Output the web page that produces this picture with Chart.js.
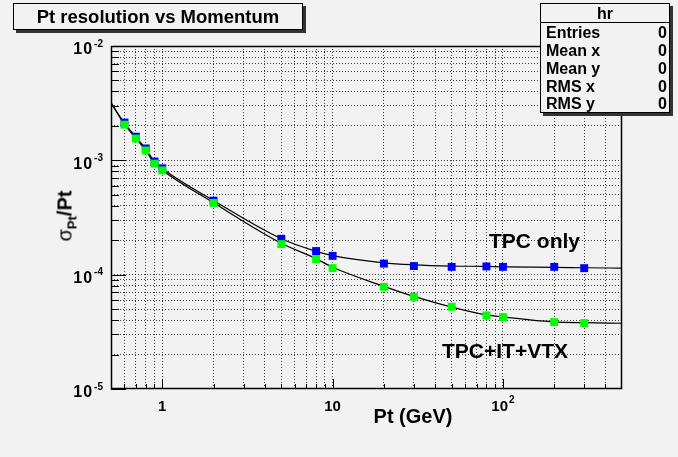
<!DOCTYPE html>
<html><head><meta charset="utf-8">
<script src="https://cdn.jsdelivr.net/npm/chart.js@4.4.0/dist/chart.umd.min.js"></script>
<style>
html,body{margin:0;padding:0;background:#f2f2f2;}
#wrap{position:relative;width:678px;height:457px;background:#f2f2f2;overflow:hidden;font-family:'Liberation Sans',Arial,Helvetica,sans-serif;font-weight:bold;color:#000;}
canvas{position:absolute;left:0;top:0;}
.abs{position:absolute;white-space:nowrap;}
#title{left:13px;top:3px;width:288px;height:25px;border:1px solid #000;background:#f2f2f2;box-shadow:3px 3px 0 #333;font-size:18.5px;text-align:center;line-height:26px;}
#stats{left:540px;top:3px;width:128px;height:108px;border:1px solid #000;background:#f2f2f2;box-shadow:3px 3px 0 #333;font-size:16px;}
#stats .hdr{position:absolute;left:0;top:0;width:128px;height:18px;border-bottom:1px solid #000;text-align:center;line-height:20px;}
#stats .row{position:absolute;left:5px;width:121px;height:18px;line-height:18px;}
#stats .row span{position:absolute;right:0;top:0;}
#ytitle{left:65px;top:216px;transform:translate(-50%,-50%) rotate(-90deg);font-size:20px;}
#ytitle .sig{font-weight:normal;}
#ytitle sub{font-size:13px;vertical-align:-5px;line-height:0;}
#xtitle{left:413px;top:416px;transform:translate(-50%,-50%);font-size:20px;}
.note{font-size:21px;}
</style>
</head><body>
<div id="wrap">
<canvas id="c" width="678" height="457"></canvas>
<div class="abs" id="title">Pt resolution vs Momentum</div>
<div class="abs" id="stats">
  <div class="hdr">hr</div>
  <div class="row" style="top:20px">Entries<span>0</span></div>
  <div class="row" style="top:38px">Mean x<span>0</span></div>
  <div class="row" style="top:56px">Mean y<span>0</span></div>
  <div class="row" style="top:74px">RMS x<span>0</span></div>
  <div class="row" style="top:91px">RMS y<span>0</span></div>
</div>
<div class="abs" id="ytitle"><span class="sig">σ</span><sub>Pt</sub>/Pt</div>
<div class="abs" id="xtitle">Pt (GeV)</div>
<div class="abs note" style="left:489px;top:229px;">TPC only</div>
<div class="abs note" style="left:442px;top:339px;">TPC+IT+VTX</div>
</div>
<script>
// ---- data ----
const pointMomenta = [0.6, 0.7, 0.8, 0.9, 1, 2, 5, 8, 10, 20, 30, 50, 80, 100, 200, 300];
const tpcOnlyRes   = [2.14e-3, 1.61e-3, 1.27e-3, 9.76e-4, 8.51e-4, 4.44e-4, 2.06e-4, 1.61e-4, 1.46e-4, 1.25e-4, 1.19e-4, 1.17e-4, 1.18e-4, 1.17e-4, 1.17e-4, 1.14e-4];
const tpcItVtxRes  = [2.05e-3, 1.55e-3, 1.22e-3, 9.36e-4, 8.17e-4, 4.24e-4, 1.85e-4, 1.37e-4, 1.14e-4, 7.83e-5, 6.40e-5, 5.24e-5, 4.40e-5, 4.25e-5, 3.85e-5, 3.77e-5];
const fitMomenta   = [0.5, 0.6, 0.7, 0.8, 0.9, 1, 2, 5, 8, 10, 20, 30, 50, 80, 100, 200, 300, 500];
const tpcOnlyFit   = [3.18e-3, 2.12e-3, 1.60e-3, 1.26e-3, 9.75e-4, 8.50e-4, 4.45e-4, 2.06e-4, 1.60e-4, 1.47e-4, 1.27e-4, 1.22e-4, 1.19e-4, 1.18e-4, 1.17e-4, 1.16e-4, 1.15e-4, 1.14e-4];
const tpcItVtxFit  = [3.18e-3, 2.06e-3, 1.56e-3, 1.22e-3, 9.40e-4, 8.20e-4, 4.25e-4, 1.88e-4, 1.38e-4, 1.16e-4, 7.90e-5, 6.45e-5, 5.20e-5, 4.45e-5, 4.27e-5, 3.87e-5, 3.80e-5, 3.76e-5];

// ---- axes ----
const xRange = [0.5, 500];
const yRange = [1e-5, 1e-2];
const xGridValues = [0.6, 0.7, 0.8, 0.9, 1, 2, 3, 4, 5, 6, 7, 8, 9, 10, 20, 30, 40, 50, 60, 70, 80, 90, 100, 200, 300, 400];
const yGridValues = [2e-5, 3e-5, 4e-5, 5e-5, 6e-5, 7e-5, 8e-5, 9e-5, 1e-4, 2e-4, 3e-4, 4e-4, 5e-4, 6e-4, 7e-4, 8e-4, 9e-4, 1e-3, 2e-3, 3e-3, 4e-3, 5e-3, 6e-3, 7e-3, 8e-3, 9e-3];
const xMajorTicks = [1, 10, 100];
const xTickBase = ['1', '10', '10'];
const xTickExp  = ['', '', '2'];
const yMajorTicks = [1e-5, 1e-4, 1e-3, 1e-2];
const yTickBase = ['10', '10', '10', '10'];
const yTickExp  = ['-5', '-4', '-3', '-2'];

const FONT = '"Liberation Sans", Arial, Helvetica, sans-serif';
const pts = (xs, ys) => xs.map((x, i) => ({x: x, y: ys[i]}));

const rootAxes = {
  id: 'rootAxes',
  beforeDatasetsDraw(chart) {
    const {ctx, chartArea: a, scales: {x, y}} = chart;
    ctx.save();
    ctx.strokeStyle = '#000';
    ctx.lineWidth = 1;
    ctx.beginPath();
    xGridValues.concat(xMajorTicks).forEach(v => {
      const px = Math.round(x.getPixelForValue(v)) + 0.5;
      const len = xMajorTicks.includes(v) ? 10 : 5;
      ctx.moveTo(px, a.bottom); ctx.lineTo(px, a.bottom - len);
    });
    yGridValues.concat(yMajorTicks).forEach(v => {
      const py = Math.round(y.getPixelForValue(v)) + 0.5;
      const len = yMajorTicks.includes(v) ? 15 : 8;
      ctx.moveTo(a.left, py); ctx.lineTo(a.left + len, py);
    });
    ctx.stroke();
    ctx.lineWidth = 1.5;
    ctx.strokeRect(a.left + 0.5, a.top + 0.5, a.right - a.left - 1, a.bottom - a.top - 1);
    ctx.restore();
  },
  afterDraw(chart) {
    const {ctx, chartArea: a, scales: {x, y}} = chart;
    ctx.save();
    ctx.fillStyle = '#000';
    ctx.textBaseline = 'middle';
    ctx.textAlign = 'left';
    const hasLS = ('letterSpacing' in ctx);
    // y labels
    yMajorTicks.forEach((v, i) => {
      const py = y.getPixelForValue(v);
      ctx.font = 'bold 10px ' + FONT;
      const ew = ctx.measureText(yTickExp[i]).width;
      ctx.font = 'bold 16px ' + FONT;
      const bw = ctx.measureText(yTickBase[i]).width + (hasLS ? 2 : 0) + 1;
      const right = a.left - 8;
      if (hasLS) ctx.letterSpacing = '1px';
      ctx.fillText(yTickBase[i], right - ew - bw, py + 4);
      if (hasLS) ctx.letterSpacing = '0px';
      ctx.font = 'bold 10px ' + FONT;
      ctx.fillText(yTickExp[i], right - ew, py - 2);
    });
    // x labels
    xMajorTicks.forEach((v, i) => {
      const px = x.getPixelForValue(v);
      ctx.font = 'bold 15px ' + FONT;
      const bw = ctx.measureText(xTickBase[i]).width;
      ctx.font = 'bold 10px ' + FONT;
      const ew = xTickExp[i] ? ctx.measureText(xTickExp[i]).width + 1 : 0;
      const start = px - (bw + ew) / 2;
      ctx.font = 'bold 15px ' + FONT;
      ctx.fillText(xTickBase[i], start, a.bottom + 18);
      if (ew) {
        ctx.font = 'bold 10px ' + FONT;
        ctx.fillText(xTickExp[i], start + bw + 1, a.bottom + 11);
      }
    });
    ctx.restore();
  }
};

new Chart(document.getElementById('c'), {
  type: 'scatter',
  data: {
    datasets: [
      { label: 'TPC+IT+VTX', data: pts(pointMomenta, tpcItVtxRes), backgroundColor: '#00ff00', borderWidth: 0,
        pointStyle: 'rect', pointRadius: 5.6, showLine: false },
      { label: 'TPC only', data: pts(pointMomenta, tpcOnlyRes), backgroundColor: '#0000ff', borderWidth: 0,
        pointStyle: 'rect', pointRadius: 5.6, showLine: false },
      { label: 'TPC+IT+VTX fit', data: pts(fitMomenta, tpcItVtxFit), showLine: true, borderColor: '#000',
        borderWidth: 1.2, pointRadius: 0, cubicInterpolationMode: 'monotone', fill: false },
      { label: 'TPC only fit', data: pts(fitMomenta, tpcOnlyFit), showLine: true, borderColor: '#000',
        borderWidth: 1.2, pointRadius: 0, cubicInterpolationMode: 'monotone', fill: false }
    ]
  },
  options: {
    responsive: false,
    devicePixelRatio: 1,
    animation: false,
    events: [],
    layout: { padding: { left: 111, right: 56, top: 46, bottom: 68 } },
    plugins: { legend: { display: false }, tooltip: { enabled: false }, title: { display: false } },
    scales: {
      x: {
        type: 'logarithmic', min: xRange[0], max: xRange[1],
        afterBuildTicks: s => { s.ticks = xGridValues.map(v => ({value: v})); },
        ticks: { display: false },
        grid: { color: 'rgba(0,0,0,0.75)', lineWidth: 1, drawTicks: false },
        border: { display: false, dash: [1, 2] }
      },
      y: {
        type: 'logarithmic', min: yRange[0], max: yRange[1],
        afterBuildTicks: s => { s.ticks = yGridValues.map(v => ({value: v})); },
        ticks: { display: false },
        grid: { color: 'rgba(0,0,0,0.75)', lineWidth: 1, drawTicks: false },
        border: { display: false, dash: [1, 2] }
      }
    }
  },
  plugins: [rootAxes]
});
</script>
</body></html>
